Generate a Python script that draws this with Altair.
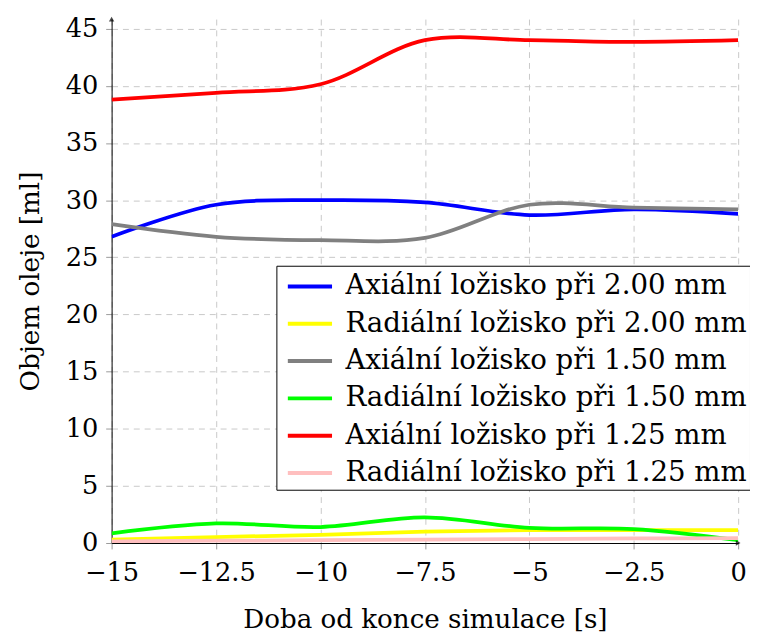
import altair as alt
import pandas as pd

# ---- data ----
time_s = [-15, -12.5, -10, -7.5, -5, -2.5, 0]

series_names = [
    "Axiální ložisko při 2.00 mm",
    "Radiální ložisko při 2.00 mm",
    "Axiální ložisko při 1.50 mm",
    "Radiální ložisko při 1.50 mm",
    "Axiální ložisko při 1.25 mm",
    "Radiální ložisko při 1.25 mm",
]
series_colors = ["#0000ff", "#ffff00", "#808080", "#00ff00", "#ff0000", "#ffbfbf"]

axial_200 = [26.8, 29.6, 30.0, 29.8, 28.7, 29.2, 28.8]
radial_200 = [0.3, 0.52, 0.72, 1.0, 1.12, 1.12, 1.12]
axial_150 = [27.9, 26.8, 26.5, 26.7, 29.6, 29.35, 29.2]
radial_150 = [0.85, 1.72, 1.4, 2.25, 1.32, 1.22, 0.25]
axial_125 = [38.8, 39.4, 40.15, 44.0, 44.0, 43.85, 44.0]
radial_125 = [0.14, 0.2, 0.25, 0.3, 0.35, 0.4, 0.43]

all_values = [axial_200, radial_200, axial_150, radial_150, axial_125, radial_125]

x_ticks = [-15, -12.5, -10, -7.5, -5, -2.5, 0]
y_ticks = [0, 5, 10, 15, 20, 25, 30, 35, 40, 45]
X_MIN, X_MAX = -15, 0
Y_MIN, Y_MAX = 0, 45.85

rows = []
for k, (name, vals) in enumerate(zip(series_names, all_values)):
    for t, v in zip(time_s, vals):
        rows.append({"t": t, "v": v, "series": name, "order": k})
df = pd.DataFrame(rows)

FONT = "DejaVu Serif"
FS = 26

x_scale = alt.Scale(domain=[X_MIN, X_MAX], nice=False, zero=False)
y_scale = alt.Scale(domain=[Y_MIN, Y_MAX], nice=False, zero=False)

lines = alt.Chart(df).mark_line(
    interpolate="catmull-rom", strokeWidth=3.8, clip=True
).encode(
    x=alt.X(
        "t:Q",
        scale=x_scale,
        axis=alt.Axis(
            values=x_ticks,
            title="Doba od konce simulace [s]",
            labelExpr="replace(toString(datum.value), '-', '−')",
            grid=True,
            gridDash=[6, 5],
            gridColor="#c8c8c8",
            gridWidth=1,
            domainColor="black",
            domainWidth=1,
            tickColor="#999999",
            tickSize=6,
            labelPadding=11,
            titlePadding=22,
            labelFlush=False,
        ),
    ),
    y=alt.Y(
        "v:Q",
        scale=y_scale,
        axis=alt.Axis(
            values=y_ticks,
            title="Objem oleje [ml]",
            grid=True,
            gridDash=[6, 5],
            gridColor="#c8c8c8",
            gridWidth=1,
            domainColor="black",
            domainWidth=1,
            tickColor="#999999",
            tickSize=6,
            labelPadding=8,
            titlePadding=21,
            labelFlush=False,
        ),
    ),
    color=alt.Color(
        "series:N",
        sort=series_names,
        scale=alt.Scale(domain=series_names, range=series_colors),
        legend=alt.Legend(
            title=None,
            orient="none",
            legendX=167,
            legendY=250,
            symbolType="M-1.4,0L1.4,0",
            symbolSize=1024,
            symbolStrokeWidth=4,
            symbolOffset=13,
            strokeColor="black",
            fillColor="white",
            padding=3,
            cornerRadius=0,
            rowPadding=5.8,
            labelFont=FONT,
            labelFontSize=28,
            labelLimit=600,
            labelOffset=18,
            labelColor="black",
        ),
    ),
    order=alt.Order("order:Q"),
)

arrows = alt.Chart(pd.DataFrame({
    "t": [X_MAX, X_MIN], "v": [Y_MIN, Y_MAX], "ang": [90, 0]
})).mark_point(shape="triangle-up", filled=True, color="black", size=30).encode(
    x=alt.X("t:Q", scale=x_scale),
    y=alt.Y("v:Q", scale=y_scale),
    angle=alt.Angle("ang:Q", scale=None),
)

chart = alt.layer(lines, arrows).properties(
    width=635,
    height=531,
    background="white",
    autosize=alt.AutoSizeParams(type="none"),
    padding={"left": 105, "top": 7, "right": 12, "bottom": 88},
).configure_view(stroke=None).configure_axis(
    labelFont=FONT,
    labelFontSize=FS,
    titleFont=FONT,
    titleFontSize=26.5,
    titleFontWeight="normal",
    labelColor="black",
    titleColor="black",
)

chart.save("out.html", embed_options={"renderer": "svg", "actions": False})
